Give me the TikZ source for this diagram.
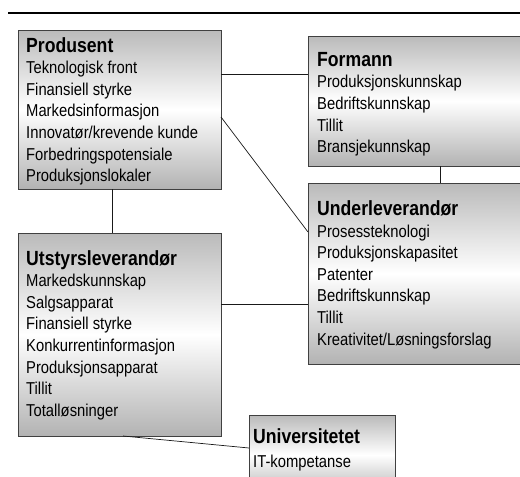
\documentclass[tikz,border=0pt]{standalone}
\usepackage{fontspec}
\setmainfont{Liberation Sans}[FakeStretch=0.86]
\begin{document}
\begin{tikzpicture}[x=1pt,y=-1pt,
  box/.style={draw=black!75, line width=0.9pt, shading=axis, top color=black!27, bottom color=black!30, middle color=white, anchor=north west, inner sep=0pt, outer sep=0pt},
  ttl/.style={anchor=base west, inner sep=0pt, font=\bfseries\fontsize{20.5}{24}\selectfont, text=black},
  itm/.style={anchor=base west, inner sep=0pt, font=\fontsize{17.2}{21}\selectfont, text=black},
  link/.style={draw=black!90, line width=0.7pt}]
\useasboundingbox (0,0) rectangle (520,477);
\clip (0,0) rectangle (520,477);
% top rule
\draw[line width=1.3pt] (8,13) -- (520,13);
% boxes
\node[box, minimum width=203pt, minimum height=159pt] (prod) at (18,30) {};
\node[box, minimum width=222pt, minimum height=130pt] (form) at (308,36) {};
\node[box, minimum width=222pt, minimum height=181pt] (under) at (308,183) {};
\node[box, minimum width=203pt, minimum height=203pt] (utst) at (18,233) {};
\node[box, minimum width=146pt, minimum height=80pt] (univ) at (249,415) {};
% connectors
\draw[link] (prod.east |- 0,74) -- (form.west |- 0,74);
\draw[link] (prod.east |- 0,117) -- (under.west |- 0,232);
\draw[link] (prod.south -| 112,0) -- (utst.north -| 112,0);
\draw[link] (form.south -| 440,0) -- (under.north -| 440,0);
\draw[link] (utst.east |- 0,304) -- (under.west |- 0,304);
\draw[link] (utst.south -| 123,0) -- (univ.west |- 0,448);
% Produsent
\node[ttl] (prodT) at (26,52) {Produsent};
\foreach \t [count=\i] in {Teknologisk front, Finansiell styrke, Markedsinformasjon, Innovatør/krevende kunde, Forbedringspotensiale, Produksjonslokaler}
  \node[itm] (prod\i) at (26,52+21.6*\i) {\t};
% Formann
\node[ttl] (formT) at (317,66) {Formann};
\foreach \t [count=\i] in {Produksjonskunnskap, Bedriftskunnskap, Tillit, Bransjekunnskap}
  \node[itm] (form\i) at (317,66+21.7*\i) {\t};
% Underleverandor
\node[ttl] (underT) at (317,215.5) {Underleverandør};
\foreach \t [count=\i] in {Prosessteknologi, Produksjonskapasitet, Patenter, Bedriftskunnskap, Tillit, Kreativitet/Løsningsforslag}
  \node[itm] (under\i) at (317,215.5+21.6*\i) {\t};
% Utstyrsleverandor
\node[ttl] (utstT) at (26,265) {Utstyrsleverandør};
\foreach \t [count=\i] in {Markedskunnskap, Salgsapparat, Finansiell styrke, Konkurrentinformasjon, Produksjonsapparat, Tillit, Totalløsninger}
  \node[itm] (utst\i) at (26,265+21.6*\i) {\t};
% Universitetet
\node[ttl] (univT) at (253,443) {Universitetet};
\node[itm] (univ1) at (253,467) {IT-kompetanse};
\end{tikzpicture}
\end{document}
